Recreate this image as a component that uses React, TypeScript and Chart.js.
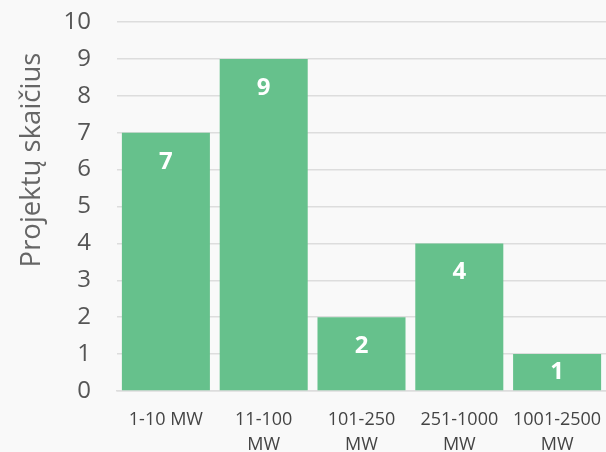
import React, { useEffect, useRef } from "react";
import { Chart, registerables } from "chart.js";

Chart.register(...registerables);

const categories: (string | string[])[] = ["1-10 MW", ["11-100", "MW"], ["101-250", "MW"], ["251-1000", "MW"], ["1001-2500", "MW"]];
const projectCounts: number[] = [7, 9, 2, 4, 1];
const yTitle = "Projektų skaičius";

const barLabelPlugin = {
  id: "barLabels",
  afterDatasetsDraw(chart: any) {
    const ctx = chart.ctx;
    const meta = chart.getDatasetMeta(0);
    ctx.save();
    ctx.fillStyle = "#ffffff";
    ctx.font = "bold 24px 'Open Sans'";
    ctx.textAlign = "center";
    ctx.textBaseline = "middle";
    meta.data.forEach((bar: any, i: number) => {
      const y = Math.min(bar.y + 29, (bar.y + bar.base) / 2);
      ctx.fillText(String(chart.data.datasets[0].data[i]), bar.x, y);
    });
    ctx.restore();
  },
};

const yTitlePlugin = {
  id: "yTitle",
  afterDraw(chart: any) {
    const ctx = chart.ctx;
    ctx.save();
    ctx.translate(32.5, 160);
    ctx.rotate(-Math.PI / 2);
    ctx.fillStyle = "#666666";
    ctx.font = "27.5px 'Open Sans'";
    ctx.textAlign = "center";
    ctx.textBaseline = "middle";
    ctx.fillText(yTitle, 0, 0);
    ctx.restore();
  },
};

const zeroPad = (scale: any) => {
  scale.paddingTop = 0;
  scale.paddingBottom = 0;
  scale.paddingLeft = 0;
  scale.paddingRight = 0;
};

export default function App() {
  const ref = useRef<HTMLCanvasElement>(null);
  useEffect(() => {
    document.body.style.margin = "0";
    const chart = new Chart(ref.current!, {
      type: "bar",
      data: {
        labels: categories,
        datasets: [
          {
            data: projectCounts,
            backgroundColor: "#66c18c",
            barPercentage: 0.9,
            categoryPercentage: 1.0,
          },
        ],
      },
      options: {
        animation: false,
        responsive: false,
        layout: { autoPadding: false, padding: { top: 22, right: 0, bottom: 0, left: 0 } },
        plugins: { legend: { display: false }, tooltip: { enabled: false } },
        scales: {
          x: {
            grid: { display: false },
            border: { color: "#dddddd", width: 1.5 },
            ticks: { color: "#444444", font: { family: "'Open Sans'", size: 18, lineHeight: 1.35 }, maxRotation: 0, autoSkip: false, padding: 9 },
            afterFit: (scale: any) => { scale.height = 61; zeroPad(scale); },
          },
          y: {
            min: 0,
            max: 10,
            ticks: { stepSize: 1, color: "#555555", font: { family: "'Open Sans'", size: 24 }, padding: 26 },
            grid: { color: "#dddddd", lineWidth: 1.5, drawTicks: false },
            border: { display: false },
            afterFit: (scale: any) => { scale.width = 117; zeroPad(scale); },
          },
        },
      },
      plugins: [barLabelPlugin, yTitlePlugin],
    });
    return () => chart.destroy();
  }, []);
  return (
    <div style={{ width: 606, height: 452, background: "#f9f9f9" }}>
      <canvas ref={ref} width={606} height={452} style={{ display: "block" }} />
    </div>
  );
}
